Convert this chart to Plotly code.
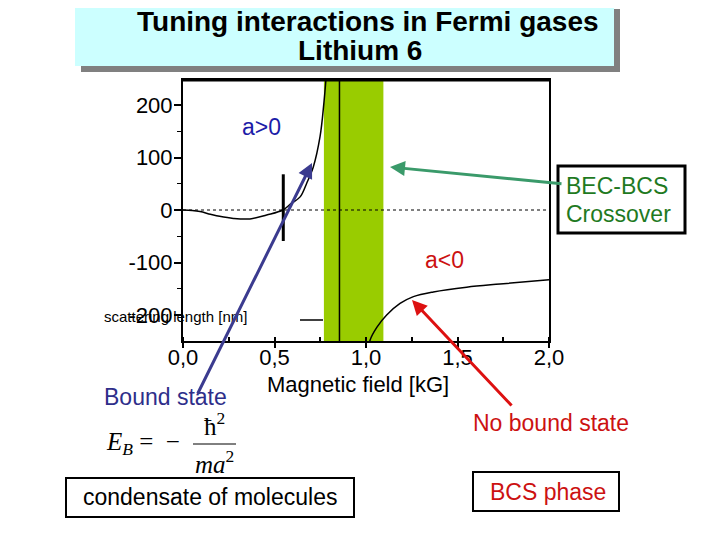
import plotly.graph_objects as go

# ---------------- data ----------------
B_low = [0.0, 0.05, 0.093, 0.15, 0.2, 0.275, 0.366, 0.457, 0.546, 0.59, 0.64, 0.676, 0.712, 0.749, 0.77, 0.781, 0.79]
a_low = [0, -1, -3, -8, -12, -16, -17, -9.5, 0, 12, 25, 51, 82, 140, 204, 248, 290]

B_up = [1.012, 1.022, 1.06, 1.113, 1.186, 1.259, 1.368, 1.55, 1.732, 2.0]
a_up = [-275, -248, -223, -200, -178, -165, -156, -147, -141, -133]

band_B = [0.77, 1.095]          # BEC-BCS crossover region
resonance_B = 0.855             # broad Feshbach resonance
narrow_B = 0.548                # narrow resonance marker
narrow_a = [-59, 68]

x_ticks = [0.0, 0.5, 1.0, 1.5, 2.0]
x_ticklabels = ["0,0", "0,5", "1,0", "1,5", "2,0"]
y_ticks = [-200, -100, 0, 100, 200]
y_ticklabels = ["-200", "-100", "0", "100", "200"]

# ---------------- layout helpers ----------------
# page body has an 8px margin: figure is 712x532 so that it fills the 720x540 window
W, H = 720, 540
OFF = 8
L, R, T, Bm = 183, 549, 80, 341      # plot area in window pixels
def px(x):
    return (x - L) / (R - L)
def py(y):
    return (Bm - y) / (Bm - T)

FONT = "Liberation Sans, Arial, sans-serif"
SERIF = "Liberation Serif, Times New Roman, serif"
BLUE = "#2e2e8a"
RED = "#cc1111"
GREEN = "#1f7a1f"

fig = go.Figure()
fig.add_trace(go.Scatter(x=B_low, y=a_low, mode="lines", line=dict(color="black", width=1.5, shape="spline"),
                         showlegend=False, hoverinfo="skip"))
fig.add_trace(go.Scatter(x=B_up, y=a_up, mode="lines", line=dict(color="black", width=1.5, shape="spline"),
                         showlegend=False, hoverinfo="skip"))

shapes = []
# title box shadow and box
shapes.append(dict(type="rect", xref="paper", yref="paper", x0=px(81), x1=px(620), y0=py(9), y1=py(72),
                   fillcolor="#808080", line=dict(width=0), layer="below"))
shapes.append(dict(type="rect", xref="paper", yref="paper", x0=px(75), x1=px(614), y0=py(3), y1=py(66),
                   fillcolor="#CCFFFF", line=dict(width=0), layer="below"))
# green band
shapes.append(dict(type="rect", xref="x", yref="paper", x0=band_B[0], x1=band_B[1], y0=0, y1=1,
                   fillcolor="#99CC00", line=dict(width=0), layer="below"))
# resonance line
shapes.append(dict(type="line", xref="x", yref="paper", x0=resonance_B, x1=resonance_B, y0=0, y1=1,
                   line=dict(color="black", width=1.5)))
# zero dotted line
shapes.append(dict(type="line", xref="paper", yref="y", x0=0, x1=1, y0=0, y1=0,
                   line=dict(color="black", width=1, dash="dot")))
# narrow resonance marker
shapes.append(dict(type="line", xref="x", yref="y", x0=narrow_B, x1=narrow_B, y0=narrow_a[0], y1=narrow_a[1],
                   line=dict(color="black", width=3)))
# thick top frame
shapes.append(dict(type="line", xref="paper", yref="paper", x0=0, x1=1, y0=1, y1=1,
                   line=dict(color="black", width=3)))
# garbled y-title underline
shapes.append(dict(type="line", xref="paper", yref="paper", x0=px(300), x1=px(323), y0=py(320), y1=py(320),
                   line=dict(color="black", width=1.5)))
# BEC-BCS box
shapes.append(dict(type="rect", xref="paper", yref="paper", x0=px(558), x1=px(685), y0=py(166), y1=py(233),
                   fillcolor="white", line=dict(color="black", width=3)))
# condensate box
shapes.append(dict(type="rect", xref="paper", yref="paper", x0=px(66), x1=px(354), y0=py(478), y1=py(517),
                   fillcolor="white", line=dict(color="black", width=2)))
# BCS phase box
shapes.append(dict(type="rect", xref="paper", yref="paper", x0=px(473), x1=px(619), y0=py(472), y1=py(511),
                   fillcolor="white", line=dict(color="black", width=2)))
# fraction bar
shapes.append(dict(type="line", xref="paper", yref="paper", x0=px(193), x1=px(236), y0=py(444), y1=py(444),
                   line=dict(color="black", width=1)))

ann = []
def text(x, y, s, size=19, color="black", family=FONT, xanchor="center", bold=False):
    ann.append(dict(x=px(x), y=py(y), xref="paper", yref="paper", text=s, showarrow=False,
                    xanchor=xanchor, yanchor="middle", borderpad=0,
                    font=dict(size=size, color=color, family=family, weight="bold" if bold else "normal")))

def arrow(hx, hy, tx, ty, color, width=3):
    ann.append(dict(x=px(hx), y=py(hy), xref="paper", yref="paper", text="", showarrow=True,
                    ax=tx - hx, ay=ty - hy, axref="pixel", ayref="pixel",
                    arrowhead=2, arrowsize=1.0, arrowwidth=width, arrowcolor=color, standoff=0))

text(368, 21, "Tuning interactions in Fermi gases", size=28, bold=True)
text(360, 51, "Lithium 6", size=28, bold=True)
text(261, 127, "a&gt;0", size=23, color="#1c1ca8")
text(444, 260, "a&lt;0", size=23, color=RED)
text(565, 186, "BEC-BCS", size=23, color=GREEN, xanchor="left")
text(565, 214, "Crossover", size=23, color=GREEN, xanchor="left")
text(358, 384, "Magnetic field [kG]", size=22)
text(165, 397, "Bound state", size=23, color=BLUE)
text(551, 423, "No bound state", size=23, color=RED)
text(210, 497, "condensate of molecules", size=23)
text(548, 492, "BCS phase", size=23, color=RED)
text(103, 316, "scattering length [nm]", size=15, xanchor="left")
# formula
text(105, 443, "<i>E</i><sub><i>B</i></sub> =  −", size=25, family=SERIF, xanchor="left")
text(214, 424, "ħ<sup>2</sup>", size=25, family=SERIF)
text(214, 462, "<i>ma</i><sup>2</sup>", size=25, family=SERIF)

arrow(312, 163, 197, 395, "#3b3b8f")
arrow(390, 167, 563, 184, "#3a9a6a")
arrow(412, 300, 513, 407, "#dd1111")

fig.update_layout(
    width=W - OFF, height=H - OFF, autosize=False,
    margin=dict(l=L - OFF, r=W - R, t=T - OFF, b=H - Bm, pad=0),
    paper_bgcolor="white", plot_bgcolor="white",
    font=dict(family=FONT, color="black"),
    shapes=shapes, annotations=ann, showlegend=False,
    xaxis=dict(range=[0, 2], showgrid=False, zeroline=False, showline=True, linecolor="black", linewidth=2,
               mirror=True, tickvals=x_ticks, ticktext=x_ticklabels, ticks="outside", ticklen=5, tickwidth=1.5,
               tickcolor="black", tickfont=dict(size=22, family=FONT, color="black"), ticklabelstandoff=-9,
               minor=dict(ticks="inside", ticklen=4, dtick=0.25, tickcolor="black", tickwidth=1.5)),
    yaxis=dict(range=[-249.5, 247.6], showgrid=False, zeroline=False, showline=True, linecolor="black", linewidth=2,
               mirror=True, tickvals=y_ticks, ticktext=y_ticklabels, ticks="outside", ticklen=7, tickwidth=1.5,
               tickcolor="black", tickfont=dict(size=22, family=FONT, color="black"), ticklabelstandoff=-3,
               minor=dict(ticks="outside", ticklen=4, dtick=50, tickcolor="black", tickwidth=1)),
)

fig.write_html("out.html")
